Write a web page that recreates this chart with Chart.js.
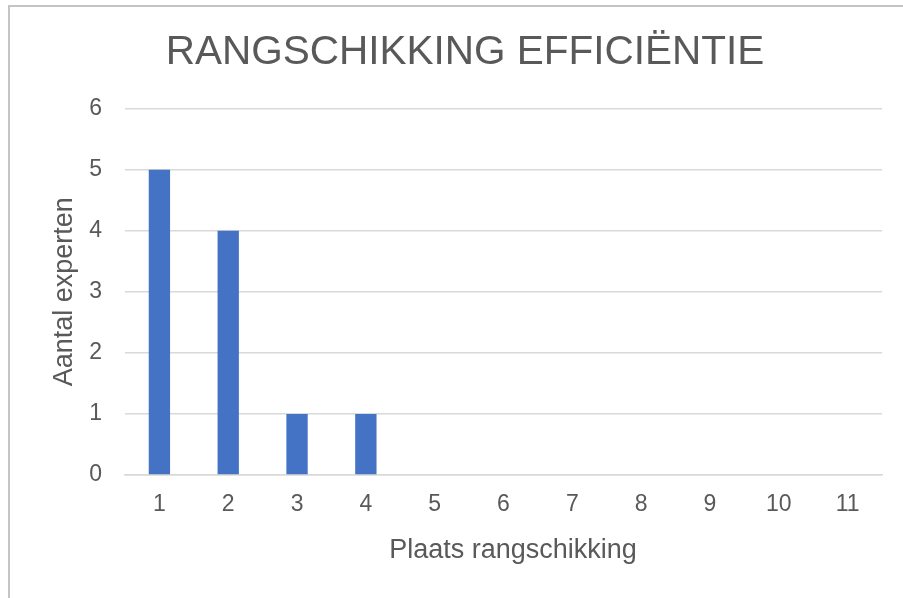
<!DOCTYPE html>
<html>
<head>
<meta charset="utf-8">
<title>Rangschikking efficiëntie</title>
<script src="https://cdn.jsdelivr.net/npm/chart.js@4/dist/chart.umd.min.js"></script>
<style>
  html, body { margin: 0; padding: 0; background: #ffffff; overflow: hidden; }
  #frame { position: relative; width: 903px; height: 598px; }
  #frame canvas { position: absolute; left: 0; top: 0; }
  .edge { position: absolute; background: #c4c4c4; }
  #edgeTop { left: 8px; top: 5px; width: 895px; height: 1.5px; }
  #edgeLeft { left: 8px; top: 5px; width: 1.5px; height: 593px; }
</style>
</head>
<body>
<div id="frame">
  <canvas id="chart" width="903" height="598"></canvas>
  <div class="edge" id="edgeTop"></div>
  <div class="edge" id="edgeLeft"></div>
</div>
<script>
// Rank positions and how many experts placed efficiency there
const categories = ['1', '2', '3', '4', '5', '6', '7', '8', '9', '10', '11'];
const expertCounts = [5, 4, 1, 1, 0, 0, 0, 0, 0, 0, 0];
const yTicks = [0, 1, 2, 3, 4, 5, 6];

const chartTitle = 'RANGSCHIKKING EFFICIËNTIE';
const xTitle = 'Plaats rangschikking';
const yTitle = 'Aantal experten';

const textColor = '#595959';
const gridColor = '#d9d9d9';
const barColor = '#4472c4';
const fontFamily = '"Liberation Sans", Arial, Helvetica, sans-serif';

new Chart(document.getElementById('chart'), {
  type: 'bar',
  data: {
    labels: categories,
    datasets: [{
      label: yTitle,
      data: expertCounts,
      backgroundColor: barColor,
      borderWidth: 0,
      categoryPercentage: 1,
      barPercentage: 0.31
    }]
  },
  options: {
    responsive: false,
    animation: false,
    devicePixelRatio: 1,
    layout: { padding: { left: 48, right: 21, top: 29, bottom: 31 } },
    plugins: {
      legend: { display: false },
      tooltip: { enabled: false },
      title: {
        display: true,
        text: chartTitle,
        color: textColor,
        font: { family: fontFamily, size: 40.5, weight: 'normal', lineHeight: 1.2 },
        padding: { top: 0, bottom: 31 }
      }
    },
    scales: {
      x: {
        grid: { display: false, drawTicks: false },
        border: { display: true, color: gridColor, width: 1.5 },
        ticks: {
          color: textColor,
          padding: 16,
          font: { family: fontFamily, size: 23 }
        },
        title: {
          display: true,
          text: '\u2002\u2009' + xTitle,
          color: textColor,
          font: { family: fontFamily, size: 27, lineHeight: 1.2 },
          padding: { top: 0, bottom: 0 }
        }
      },
      y: {
        min: 0,
        max: 6,
        afterBuildTicks: (scale) => {
          scale.ticks = yTicks.map(v => ({ value: v }));
        },
        afterFit: (scale) => { scale.width = 77; },
        grid: { color: gridColor, lineWidth: 1.5, drawTicks: false },
        border: { display: false },
        ticks: {
          color: textColor,
          padding: 23,
          font: { family: fontFamily, size: 23 }
        },
        title: {
          display: true,
          text: yTitle,
          color: textColor,
          font: { family: fontFamily, size: 27, lineHeight: 1.2 },
          padding: { top: 0, bottom: 0 }
        }
      }
    }
  }
});
</script>
</body>
</html>
